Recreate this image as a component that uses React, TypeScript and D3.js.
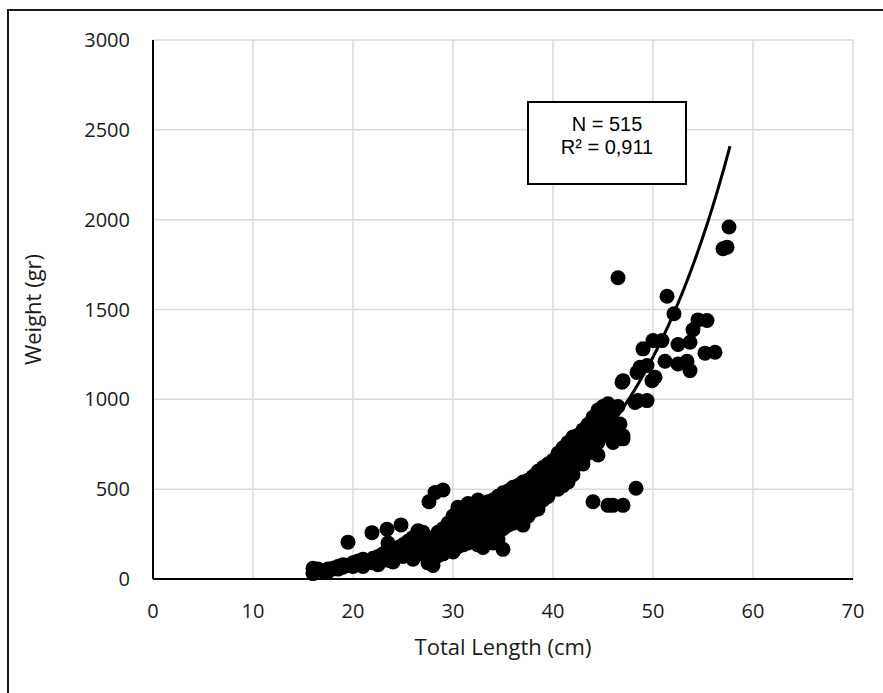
import React, { useEffect, useRef } from 'react';
import * as d3 from 'd3';

// [total length cm, weight gr]
const smallFish: [number, number][] = [
  [16, 30], [16, 60], [16.5, 55], [17, 45], [17.5, 55], [17.5, 40], [18, 60], [18.5, 55], [18.5, 70],
  [19, 65], [19, 80], [19.5, 75], [20, 70], [20, 90], [20.5, 80], [20.5, 100], [21, 85], [21, 70],
  [21, 110], [21.5, 95], [22, 90], [22, 115], [22.5, 100], [22.5, 125], [22.5, 80], [23, 110],
  [23, 140], [23.5, 105], [23.5, 150], [23.5, 200], [24, 120], [24, 160], [24, 95], [24.5, 130],
  [24.5, 175], [25, 125], [25, 150], [25, 190], [25.5, 140], [25.5, 170], [25.5, 210], [26, 135],
  [26, 160], [26, 230], [26, 110], [26.5, 150], [26.5, 190], [27, 140], [27, 175], [27, 220],
  [27, 260], [27.5, 160], [27.5, 200], [27.5, 90], [28, 150], [28, 185], [28, 230], [28, 75],
  [28.5, 170], [28.5, 210], [28.5, 260], [28.5, 130]
];

const midFish: [number, number][] = [
  [29, 180], [29, 230], [29, 280], [29, 140], [29.5, 190], [29.5, 250], [29.5, 310], [29.5, 160],
  [30, 200], [30, 240], [30, 290], [30, 350], [30, 150], [30.5, 220], [30.5, 270], [30.5, 330],
  [30.5, 400], [30.5, 180], [31, 230], [31, 290], [31, 350], [31, 190], [31.5, 240], [31.5, 300],
  [31.5, 360], [31.5, 420], [31.5, 200], [32, 250], [32, 320], [32, 380], [32, 210], [32.5, 270],
  [32.5, 330], [32.5, 400], [32.5, 440], [32.5, 190], [33, 280], [33, 350], [33, 420], [33, 175],
  [33, 230], [33.5, 300], [33.5, 360], [33.5, 430], [33.5, 240], [34, 310], [34, 380], [34, 440],
  [34, 250], [34, 200], [34.5, 330], [34.5, 390], [34.5, 460], [34.5, 270], [34.5, 220], [35, 340],
  [35, 410], [35, 480], [35, 280], [35.5, 360], [35.5, 430], [35.5, 490], [35.5, 300], [36, 370],
  [36, 440], [36, 510], [36, 310], [36.5, 390], [36.5, 460], [36.5, 520], [36.5, 320], [37, 400],
  [37, 480], [37, 540], [37, 300], [37.5, 420], [37.5, 490], [37.5, 550], [37.5, 350], [38, 440],
  [38, 510], [38, 570], [38, 380], [38.5, 460], [38.5, 530], [38.5, 600], [38.5, 390], [39, 480],
  [39, 550], [39, 620], [39, 440], [39.5, 500], [39.5, 570], [39.5, 640], [39.5, 460], [40, 520],
  [40, 600], [40, 660]
];

const largeFish: [number, number][] = [
  [40.5, 540], [40.5, 620], [40.5, 700], [40.5, 500], [41, 570], [41, 650], [41, 730], [41, 520],
  [41.5, 600], [41.5, 680], [41.5, 760], [41.5, 540], [42, 620], [42, 700], [42, 790], [42, 580],
  [42.5, 640], [42.5, 720], [42.5, 800], [43, 680], [43, 760], [43, 830], [43, 640], [43.5, 700],
  [43.5, 780], [43.5, 860], [44, 740], [44, 820], [44, 900], [44.5, 760], [44.5, 850], [44.5, 940],
  [44.5, 690], [45, 800], [45, 880], [45, 960], [45.5, 820], [45.5, 900], [45.5, 975], [46, 850],
  [46, 930], [46, 760], [46.5, 800], [46.5, 960], [46.7, 863], [47, 797], [47, 780]
];

const biggestFish: [number, number][] = [
  [46.9, 1095], [47, 1104], [48.5, 993], [49.4, 993], [48.2, 983], [48.4, 1150], [48.7, 1178],
  [49.4, 1188], [49.9, 1104], [50.2, 1123], [49, 1281], [50, 1327], [50.9, 1327], [51.2, 1212],
  [52.5, 1197], [53.4, 1212], [53.7, 1160], [52.5, 1305], [53.7, 1318], [54, 1387], [54.5, 1442],
  [55.4, 1439], [55.2, 1257], [56.2, 1262], [51.4, 1574], [52.1, 1476], [57, 1838], [57.4, 1847],
  [57.6, 1959]
];

const outliers: [number, number][] = [
  [19.5, 205], [21.9, 258], [23.4, 277], [24.8, 301], [26.5, 268], [27.6, 430], [28.2, 481],
  [29, 495], [35, 165], [44, 430], [45.5, 410], [46, 410], [47, 410], [48.3, 505], [46.5, 1677]
];

// Excel exponential trendline y = a * e^(b x)
const trendA = 16.1;
const trendB = 0.0868;
const trendRange = [16, 57.7];

const xTicks = [0, 10, 20, 30, 40, 50, 60, 70];
const yTicks = [0, 500, 1000, 1500, 2000, 2500, 3000];

const statLines = ['N = 515', 'R² = 0,911'];

const App: React.FC = () => {
  const ref = useRef<SVGSVGElement>(null);

  useEffect(() => {
    if (!ref.current) return;
    const svg = d3.select(ref.current);
    svg.selectAll('*').remove();

    const left = 153, right = 853, top = 40, bottom = 579;
    const x = d3.scaleLinear().domain([0, 70]).range([left, right]);
    const y = d3.scaleLinear().domain([0, 3000]).range([bottom, top]);
    const tickFont = '"Open Sans", sans-serif';

    // outer frame
    svg.append('rect')
      .attr('x', 8).attr('y', 10).attr('width', 900).attr('height', 700)
      .attr('fill', 'white').attr('stroke', '#1a1a1a').attr('stroke-width', 2);

    // grid
    svg.append('g').selectAll('line').data(xTicks.slice(1)).enter().append('line')
      .attr('x1', d => x(d)).attr('x2', d => x(d)).attr('y1', top).attr('y2', bottom)
      .attr('stroke', '#d9d9d9').attr('stroke-width', 1.5);
    svg.append('g').selectAll('line').data(yTicks.slice(1)).enter().append('line')
      .attr('x1', left).attr('x2', right).attr('y1', d => y(d)).attr('y2', d => y(d))
      .attr('stroke', '#d9d9d9').attr('stroke-width', 1.5);

    // axes
    svg.append('line').attr('x1', left).attr('x2', right).attr('y1', bottom).attr('y2', bottom)
      .attr('stroke', 'black').attr('stroke-width', 2);
    svg.append('line').attr('x1', left).attr('x2', left).attr('y1', top).attr('y2', bottom)
      .attr('stroke', 'black').attr('stroke-width', 2);

    svg.append('g').selectAll('text').data(xTicks).enter().append('text')
      .attr('x', d => x(d)).attr('y', 618).attr('text-anchor', 'middle')
      .style('font-family', tickFont).style('font-size', '20px').attr('fill', '#1a1a1a')
      .text(d => d);
    svg.append('g').selectAll('text').data(yTicks).enter().append('text')
      .attr('x', 130).attr('y', d => y(d) + 7).attr('text-anchor', 'end')
      .style('font-family', tickFont).style('font-size', '20px').attr('fill', '#1a1a1a')
      .text(d => d);

    svg.append('text').attr('x', (left + right) / 2).attr('y', 655).attr('text-anchor', 'middle')
      .style('font-family', tickFont).style('font-size', '22px').attr('fill', '#1a1a1a')
      .text('Total Length (cm)');
    svg.append('text')
      .attr('transform', `translate(41,${(top + bottom) / 2}) rotate(-90)`)
      .attr('text-anchor', 'middle')
      .style('font-family', tickFont).style('font-size', '22px').attr('fill', '#1a1a1a')
      .text('Weight (gr)');

    // points
    const all = [...smallFish, ...midFish, ...largeFish, ...biggestFish, ...outliers];
    svg.append('g').selectAll('circle').data(all).enter().append('circle')
      .attr('cx', d => x(d[0])).attr('cy', d => y(d[1])).attr('r', 7.5)
      .attr('fill', 'black');

    // trendline
    const xs = d3.range(trendRange[0], trendRange[1] + 0.001, 0.1);
    const line = d3.line<number>().x(d => x(d)).y(d => y(trendA * Math.exp(trendB * d)));
    svg.append('path').datum(xs).attr('d', line).attr('fill', 'none')
      .attr('stroke', 'black').attr('stroke-width', 3);

    // stats box
    svg.append('rect').attr('x', 528).attr('y', 102).attr('width', 158).attr('height', 82)
      .attr('fill', 'white').attr('stroke', 'black').attr('stroke-width', 2);
    svg.append('g').selectAll('text').data(statLines).enter().append('text')
      .attr('x', 607).attr('y', (_, i) => 131 + i * 23).attr('text-anchor', 'middle')
      .style('font-family', '"Liberation Sans", Arial, sans-serif').style('font-size', '20px')
      .attr('fill', 'black')
      .text(d => d);
  }, []);

  return (
    <svg ref={ref} width={883} height={693}
      style={{ position: 'absolute', left: 0, top: 0, background: 'white' }} />
  );
};

export default App;
